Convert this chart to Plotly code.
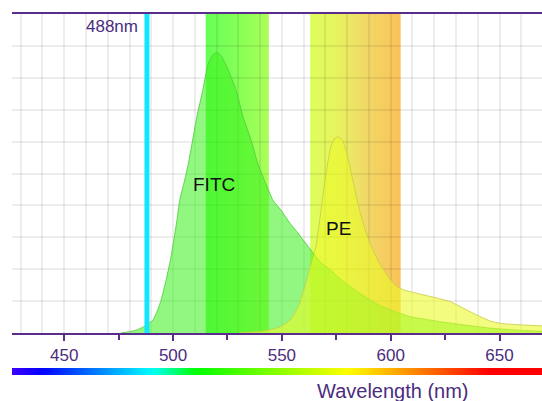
import numpy as np
import plotly.graph_objects as go

# ---------------- data ----------------
fitc_wl = [476, 480, 483, 486, 488, 490.7, 492.5, 494.5, 496.8, 498.8, 500.3, 501.8, 503, 505, 507, 509,
           511, 513.6, 516, 518, 520, 522, 525, 529, 532, 535.8, 539, 543.4, 546, 549.5, 553.7, 557.2,
           563.3, 568, 572.5, 577, 581.7, 586, 590.8, 595, 600, 609, 616, 623, 635, 646, 658, 670]
fitc_val = [0, 0.4, 0.9, 1.8, 2.6, 4, 6.5, 10.3, 16.6, 22.9, 29, 35.4, 41.5, 47, 53, 60.5,
            68, 76, 84, 87, 88, 87, 83, 76, 68, 60.5, 53, 45.5, 41.5, 38.6, 34.4, 31.5,
            26, 22, 19.7, 16.8, 14.5, 12.3, 10.3, 8.6, 7.2, 5.1, 4.3, 3.5, 2.4, 1.5, 0.9, 0.5]

pe_wl = [530, 540, 546, 550, 554, 558, 561.8, 563.5, 565.6, 567.5, 569.4, 571, 572.5, 574, 576, 577.7,
         579.4, 581.3, 583.2, 585.5, 587.8, 590.5, 594, 597, 600, 603, 606, 610, 615.3, 621, 627.5,
         631, 635, 639, 642.8, 646, 650.5, 656, 661, 670]
pe_val = [0, 0.5, 1.2, 2.2, 4.2, 9, 17.6, 22, 27, 36, 45.9, 53, 58.4, 60.8, 61.5, 60.5,
          57.4, 52, 45.9, 39, 33.3, 28, 22.9, 19.5, 16.6, 14.5, 13.5, 12.8, 11.9, 11, 9.8,
          8.6, 7.2, 5.8, 4.6, 3.7, 3, 2.7, 2.5, 2.2]

dye_names = ["FITC", "PE"]
dye_label_x = [518.8, 575.8]
dye_label_y = [46.5, 32.9]

laser_nm = 488
laser_label = "488nm"

filter_lo = [515, 563]
filter_hi = [544, 604.5]

x_range = [426, 669.5]
axis_title = "Wavelength (nm)"

# ---------------- styling helpers ----------------
PURPLE = "#4b2c7e"
LINE_PURPLE = "#5a2d8c"
GRID = "rgba(0,0,0,0.07)"
FONT = "Arial, Liberation Sans, sans-serif"

band_stops = [
    [(515, (102, 255, 85)), (530, (134, 255, 86)), (544, (172, 255, 90))],
    [(563, (220, 255, 90)), (576, (232, 242, 96)), (588, (240, 218, 104)), (604.5, (251, 194, 88))],
]


def interp_color(w, stops):
    xs = [s[0] for s in stops]
    out = []
    for k in range(3):
        out.append(int(round(np.interp(w, xs, [s[1][k] for s in stops]))))
    return "rgb(%d,%d,%d)" % tuple(out)


def spectrum_rgb(wl):
    if wl < 440:
        r, g, b = (440 - wl) / 60.0, 0.0, 1.0
    elif wl < 490:
        r, g, b = 0.0, (wl - 440) / 50.0, 1.0
    elif wl < 510:
        r, g, b = 0.0, 1.0, (510 - wl) / 20.0
    elif wl < 580:
        r, g, b = (wl - 510) / 70.0, 1.0, 0.0
    elif wl < 645:
        r, g, b = 1.0, (645 - wl) / 65.0, 0.0
    else:
        r, g, b = 1.0, 0.0, 0.0
    return "rgb(%d,%d,%d)" % (round(255 * r), round(255 * g), round(255 * b))


fig = go.Figure()

# filter bands as gradient strips
shapes = []
for lo, hi, stops in zip(filter_lo, filter_hi, band_stops):
    for w in np.arange(lo, hi, 1.0):
        shapes.append(dict(type="rect", xref="x", yref="y", x0=w, x1=min(w + 1.4, hi),
                           y0=0, y1=100, fillcolor=interp_color(w + 0.5, stops),
                           line=dict(width=0), layer="below"))

# emission spectra
fig.add_trace(go.Scatter(x=fitc_wl, y=fitc_val, mode="lines", fill="tozeroy",
                         fillcolor="rgba(60,240,30,0.56)",
                         line=dict(color="rgba(80,205,60,0.85)", width=1, shape="spline", smoothing=0.5),
                         hoverinfo="skip", showlegend=False))
fig.add_trace(go.Scatter(x=pe_wl, y=pe_val, mode="lines", fill="tozeroy",
                         fillcolor="rgba(235,250,40,0.6)",
                         line=dict(color="rgba(200,205,70,0.85)", width=1, shape="spline", smoothing=0.5),
                         hoverinfo="skip", showlegend=False))

# laser line
fig.add_trace(go.Scatter(x=[laser_nm, laser_nm], y=[0, 100], mode="lines", xaxis="x3", yaxis="y",
                         line=dict(color="#12e6ff", width=5), hoverinfo="skip", showlegend=False))

# spectrum colour bar
bar_wl = np.arange(x_range[0], x_range[1] + 1, 1.0)
cs_pts = np.linspace(x_range[0], x_range[1], 60)
colorscale = [[(w - x_range[0]) / (x_range[1] - x_range[0]), spectrum_rgb(w)] for w in cs_pts]
fig.add_trace(go.Heatmap(x=bar_wl, y=[0], z=[bar_wl], colorscale=colorscale, zmin=x_range[0],
                         zmax=x_range[1], showscale=False, zsmooth="best", xaxis="x2", yaxis="y2",
                         hoverinfo="skip"))

annotations = [
    dict(x=laser_nm, y=96.2, xref="x", yref="y", text=laser_label, showarrow=False,
         xanchor="right", yanchor="middle", xshift=-7, font=dict(size=17, color=PURPLE, family=FONT)),
    dict(x=0.718, y=-0.044, xref="paper", yref="paper", text=axis_title, showarrow=False,
         xanchor="center", yanchor="middle", font=dict(size=20, color=PURPLE, family=FONT)),
]
for name, lx, ly in zip(dye_names, dye_label_x, dye_label_y):
    annotations.append(dict(x=lx, y=ly, xref="x", yref="y", text=name, showarrow=False,
                            xanchor="center", yanchor="middle",
                            font=dict(size=19, color="#111111", family=FONT)))

H_PLOT = 401 - 14 - 26
fig.update_layout(
    width=542, height=401,
    margin=dict(l=12, r=0, t=14, b=26),
    paper_bgcolor="white", plot_bgcolor="white",
    showlegend=False,
    shapes=shapes,
    annotations=annotations,
    font=dict(family=FONT),
    xaxis=dict(domain=[0, 1], range=x_range, anchor="y", dtick=50, tick0=0,
               ticks="outside", ticklen=6, tickwidth=1.5, tickcolor=LINE_PURPLE,
               showline=True, linecolor=LINE_PURPLE, linewidth=2, mirror=True,
               showgrid=False, zeroline=False,
               tickfont=dict(size=17, color=PURPLE, family=FONT),
               minor=dict(dtick=25, tick0=0, ticks="outside", ticklen=5, tickwidth=1.5,
                          tickcolor=LINE_PURPLE, showgrid=False)),
    xaxis3=dict(overlaying="x", matches="x", anchor="y", range=x_range, dtick=10, tick0=0,
                showgrid=True, gridcolor=GRID, gridwidth=1.5, showticklabels=False,
                ticks="", showline=False, zeroline=False),
    yaxis=dict(domain=[42 / H_PLOT, 1], range=[0, 100], dtick=10, showgrid=True,
               gridcolor=GRID, gridwidth=1.5, showticklabels=False, ticks="",
               zeroline=False, showline=False, fixedrange=True),
    xaxis2=dict(matches="x", anchor="y2", visible=False),
    yaxis2=dict(domain=[0, 7 / H_PLOT], anchor="x2", visible=False, range=[-0.5, 0.5]),
)

fig.write_html("out.html", config={"displayModeBar": False},
               post_script="document.body.style.margin='0';document.body.style.overflow='hidden';")
